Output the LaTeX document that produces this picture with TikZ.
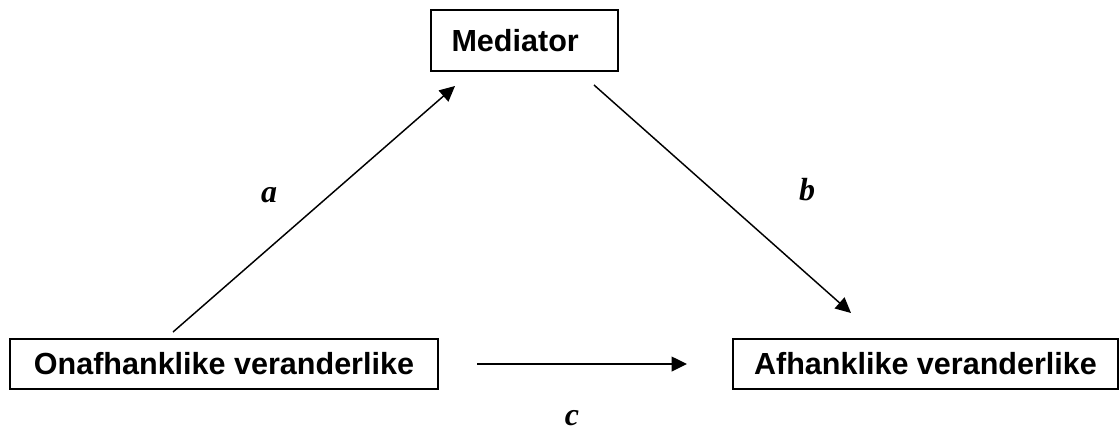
\documentclass[tikz,border=0pt]{standalone}
\usepackage{fontspec}
\setmainfont{Liberation Sans}
\newfontfamily\labfont{Liberation Serif}
\usetikzlibrary{arrows.meta}
\begin{document}
\begin{tikzpicture}[x=0.75pt,y=-0.75pt,
  varbox/.style={draw=black, line width=1.5pt, inner sep=0pt, fill=white,
    font=\fontsize{22.9}{27}\selectfont\bfseries},
  conn/.style={line width=1.1pt, -{Triangle[length=11.5pt,width=11pt]}},
  pathlab/.style={anchor=base, inner sep=0pt, font=\labfont\fontsize{24}{28}\selectfont\bfseries\itshape}]
\useasboundingbox (0,0) rectangle (1119,430);
\node[varbox, minimum width=140.25pt, minimum height=45.75pt,
  label={[font=\fontsize{22.9}{27}\selectfont\bfseries, xshift=-7pt]center:Mediator}] (med) at (524.5,40.5) {};
\node[varbox, minimum width=321pt, minimum height=37.5pt] (onaf) at (224,364) {Onafhanklike veranderlike};
\node[varbox, minimum width=288.75pt, minimum height=37.5pt] (afh) at (925.5,364) {Afhanklike veranderlike};
\coordinate (aS) at (173,332);
\coordinate (aE) at (455,86);
\coordinate (bS) at (594,85);
\coordinate (bE) at (851,313);
\coordinate (cS) at (477,364);
\coordinate (cE) at (687,364);
\draw[conn] (aS) -- (aE);
\draw[conn] (bS) -- (bE);
\draw[conn] (cS) -- (cE);
\node[pathlab] (la) at (269,202) {a};
\node[pathlab] (lb) at (807,200) {b};
\node[pathlab] (lc) at (572,425) {c};
\end{tikzpicture}
\end{document}
